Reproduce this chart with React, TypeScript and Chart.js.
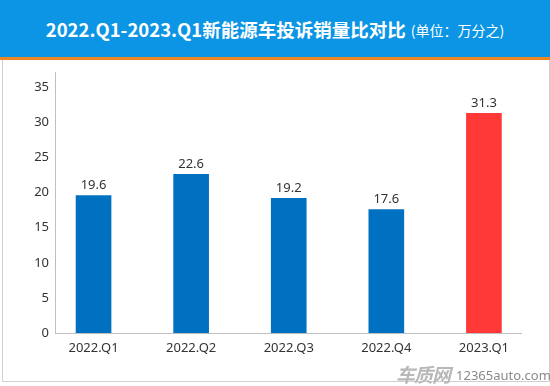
import { useEffect, useRef } from 'react';
import { Chart, registerables } from 'chart.js';

Chart.register(...registerables);

const categories = ['2022.Q1', '2022.Q2', '2022.Q3', '2022.Q4', '2023.Q1'];
const complaintRatio = [19.6, 22.6, 19.2, 17.6, 31.3];
const barColors = ['#0070C0', '#0070C0', '#0070C0', '#0070C0', '#FF3838'];
const yTicks = [0, 5, 10, 15, 20, 25, 30, 35];
const titleMain = '2022.Q1-2023.Q1新能源车投诉销量比对比';
const titleUnit = '(单位：万分之)';

const FONT = "'Noto Sans', 'Open Sans', sans-serif";
const CJK = "'Noto Sans CJK SC', 'Noto Sans', sans-serif";

export default function App() {
  const ref = useRef<HTMLCanvasElement>(null);

  useEffect(() => {
    document.body.style.margin = '0';
    const labelPlugin = {
      id: 'barLabels',
      afterDatasetsDraw(chart: any) {
        const ctx = chart.ctx;
        const meta = chart.getDatasetMeta(0);
        ctx.save();
        ctx.font = `13px ${FONT}`;
        ctx.fillStyle = '#333333';
        ctx.textAlign = 'center';
        ctx.textBaseline = 'middle';
        meta.data.forEach((el: any, i: number) => {
          ctx.fillText(complaintRatio[i].toFixed(1), el.x, el.y - 10);
        });
        ctx.restore();
      },
    };
    const chart = new Chart(ref.current as HTMLCanvasElement, {
      type: 'bar',
      data: {
        datasets: [
          {
            data: complaintRatio.map((v, i) => ({ x: i, y: v })) as any,
            backgroundColor: barColors,
            barThickness: 35,
            borderWidth: 0,
          },
        ],
      },
      options: {
        animation: false,
        responsive: false,
        layout: { padding: { top: 72, right: 29, bottom: 0, left: 0 } },
        plugins: { legend: { display: false }, tooltip: { enabled: false } },
        scales: {
          x: {
            type: 'linear',
            offset: false,
            min: -0.395,
            max: 4.38,
            grid: { display: false, drawTicks: false },
            border: { display: true, color: '#BFBFBF', width: 1 },
            afterBuildTicks: (s: any) => {
              s.ticks = categories.map((_, i) => ({ value: i }));
            },
            ticks: {
              callback: (v: any) => categories[v] ?? '',
              padding: 7,
              color: '#333333',
              font: { size: 13, family: FONT },
              autoSkip: false,
              maxRotation: 0,
            },
            afterFit: (s: any) => {
              s.height = 53;
            },
          },
          y: {
            min: 0,
            max: 37.2,
            grid: { display: false, drawTicks: false },
            border: { display: true, color: '#BFBFBF', width: 1 },
            afterBuildTicks: (s: any) => {
              s.ticks = yTicks.map((v) => ({ value: v }));
            },
            ticks: {
              padding: 6,
              color: '#333333',
              font: { size: 13, family: FONT },
            },
            afterFit: (s: any) => {
              s.width = 55;
            },
          },
        },
      } as any,
      plugins: [labelPlugin],
    });
    return () => chart.destroy();
  }, []);

  return (
    <div style={{ position: 'absolute', left: 0, top: 0, width: 550, height: 386, background: '#ffffff', overflow: 'hidden' }}>
      <div
        style={{
          position: 'absolute',
          left: 0,
          top: 0,
          width: 550,
          height: 57,
          background: '#0C95E4',
          borderBottom: '3px solid #F0841E',
          display: 'flex',
          alignItems: 'center',
          justifyContent: 'center',
          color: '#ffffff',
          fontFamily: CJK,
          whiteSpace: 'nowrap',
        }}
      >
        <span style={{ fontSize: 18.5, fontWeight: 700 }}>{titleMain}</span>
        <span style={{ fontSize: 14, fontWeight: 400, marginLeft: 5, marginTop: 3 }}>{titleUnit}</span>
      </div>
      <div
        style={{
          position: 'absolute',
          left: 2,
          top: 60,
          width: 546,
          height: 321,
          borderLeft: '1px solid #D0D0D0',
          borderRight: '1px solid #D0D0D0',
          borderBottom: '1px solid #D0D0D0',
        }}
      />
      <canvas ref={ref} width={550} height={386} style={{ position: 'absolute', left: 0, top: 0, width: 550, height: 386 }} />
      <div
        style={{
          position: 'absolute',
          left: 396,
          top: 360,
          display: 'flex',
          alignItems: 'center',
          whiteSpace: 'nowrap',
        }}
      >
        <span style={{ fontFamily: CJK, fontSize: 19, fontWeight: 700, fontStyle: 'italic', color: '#B8B8B8', letterSpacing: -1 }}>车质网</span>
        <span style={{ fontFamily: FONT, fontSize: 13, color: '#8A8A8A', marginLeft: 6, marginTop: 3 }}>12365auto.com</span>
      </div>
    </div>
  );
}
